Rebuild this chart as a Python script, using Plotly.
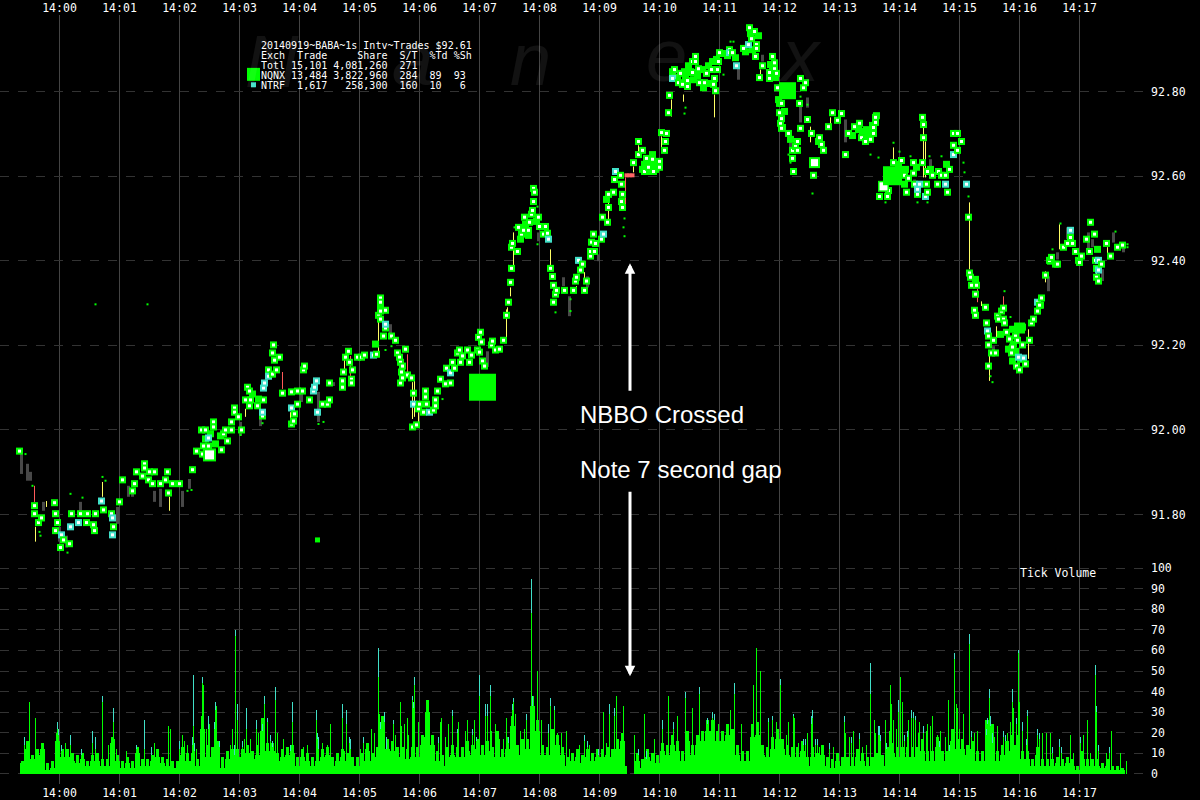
import plotly.graph_objects as go

# seconds after 14:00:00, price
nqnx_points = [
(-40,91.950),(-25,91.821),(-25,91.802),(-18,91.792),(-21,91.781),(-5,91.828),(-4,91.802),(-2,91.781),(-4,91.762),(4,91.740),
(1,91.722),(10,91.731),(12,91.802),(21,91.802),(28,91.802),(36,91.802),(27,91.781),(34,91.776),(35,91.762),(44,91.811),
(60,91.830),(52,91.802),(54,91.771),(63,91.882),(75,91.873),(73,91.856),(77,91.901),(85,91.920),(85,91.910),(83,91.891),
(89,91.882),(90,91.901),(95,91.901),(93,91.873),(101,91.873),(106,91.882),(108,91.901),(109,91.851),(120,91.873),(113,91.873),
(133,91.906),(137,91.950),(142,92.000),(146,92.000),(144,91.962),(149,91.962),(143,91.943),(154,92.019),(154,92.007),(164,91.991),
(168,91.974),(162,91.953),(166,92.000),(172,92.000),(172,92.019),(182,92.000),(179,92.031),(175,92.052),(175,92.042),(188,92.101),
(190,92.092),(186,92.071),(191,92.071),(190,92.057),(198,92.057),(204,92.071),(203,92.033),(209,92.142),(213,92.132),(217,92.142),
(215,92.165),(213,92.182),(220,92.172),(214,92.201),(223,92.087),(232,92.090),(238,92.092),(243,92.092),(245,92.151),(244,92.142),
(238,92.061),(235,92.038),(234,92.021),(232,92.014),(250,92.071),(263,92.061),(270,92.071),(268,92.061),(270,92.111),(283,92.116),
(283,92.101),(284,92.137),(292,92.120),(292,92.111),(293,92.142),(286,92.172),(289,92.186),(290,92.160),(298,92.172),(302,92.172),
(305,92.177),(317,92.179),(321,92.312),(321,92.302),(319,92.271),(321,92.281),(326,92.283),(321,92.262),(326,92.241),(324,92.222),
(332,92.222),(336,92.212),(346,92.191),(338,92.182),(340,92.172),(341,92.160),(343,92.151),(342,92.137),(348,92.130),(343,92.123),
(352,92.123),(341,92.111),(354,92.087),(360,92.061),(359,92.050),(366,92.092),(366,92.078),(367,92.061),(364,92.042),(376,92.071),
(376,92.057),(378,92.092),(374,92.047),(357,92.012),(353,92.007),(381,92.120),(386,92.109),(391,92.111),(387,92.146),(393,92.160),
(395,92.146),(398,92.182),(400,92.189),(403,92.175),(408,92.189),(412,92.177),(401,92.160),(410,92.160),(418,92.189),(423,92.163),
(425,92.151),(419,92.219),(421,92.231),(422,92.208),(420,92.184),(432,92.201),(436,92.189),(433,92.210),(444,92.212),(440,92.191),
(447,92.271),(449,92.302),(451,92.349),(452,92.382),(453,92.441),(452,92.432),(458,92.422),(459,92.479),(464,92.472),(462,92.463),
(465,92.503),(470,92.491),(469,92.472),(472,92.510),(473,92.519),(474,92.540),(475,92.562),(474,92.571),(479,92.503),(480,92.481),
(486,92.481),(488,92.465),(484,92.463),(491,92.382),(493,92.363),(494,92.342),(496,92.321),(494,92.302),(497,92.330),(505,92.330),
(514,92.330),(516,92.352),(517,92.361),(521,92.378),(523,92.392),(525,92.330),(527,92.352),(531,92.411),(531,92.422),(532,92.444),
(536,92.441),(534,92.463),(535,92.422),(542,92.451),(543,92.503),(548,92.491),(549,92.526),(549,92.557),(554,92.562),(555,92.592),
(561,92.602),(562,92.581),(563,92.557),(562,92.540),(563,92.526),(579,92.682),(583,92.661),(579,92.651),(574,92.632),(587,92.642),
(593,92.640),(600,92.635),(589,92.621),(594,92.611),(600,92.621),(585,92.611),(602,92.703),(607,92.701),(606,92.682),(605,92.661),
(609,92.750),(610,92.791),(615,92.852),(621,92.843),(619,92.821),(623,92.817),(628,92.812),(628,92.826),(636,92.883),(636,92.871),
(633,92.871),(639,92.854),(633,92.845),(647,92.843),(652,92.852),(645,92.821),(640,92.821),(658,92.852),(655,92.831),(654,92.817),
(656,92.802),(660,92.892),(659,92.871),(673,92.892),(670,92.899),(684,92.902),(692,92.925),(695,92.942),(690,92.951),(697,92.911),
(697,92.902),(696,92.883),(703,92.861),(700,92.833),(710,92.831),(713,92.883),(715,92.868),(710,92.845),(715,92.854),(717,92.843),
(718,92.809),(720,92.772),(722,92.772),(740,92.772),(720,92.750),(722,92.736),(721,92.725),(722,92.713),(729,92.701),(741,92.713),
(748,92.734),(741,92.831),(746,92.821),(744,92.809),(752,92.701),(738,92.682),(736,92.670),(738,92.661),(733,92.661),(733,92.642),
(734,92.611),(760,92.691),(762,92.675),(764,92.661),(754,92.602),(773,92.750),(782,92.748),(778,92.732),(769,92.717),(786,92.651),
(800,92.725),(795,92.717),(789,92.701),(802,92.691),(811,92.687),(806,92.682),(816,92.739),(816,92.727),(814,92.715),(814,92.701),
(863,92.739),(864,92.722),(864,92.691),(834,92.632),(842,92.637),(854,92.632),(863,92.632),(839,92.611),(854,92.607),(868,92.611),
(873,92.602),(879,92.611),(882,92.602),(886,92.602),(890,92.616),(867,92.581),(878,92.581),(845,92.602),(849,92.595),(855,92.581),
(847,92.562),(868,92.562),(858,92.557),(888,92.562),(829,92.566),(820,92.552),(828,92.552),(898,92.701),(894,92.701),(902,92.682),
(894,92.673),(898,92.661),(909,92.503),(910,92.371),(911,92.361),(912,92.342),(917,92.342),(916,92.321),(926,92.290),(916,92.271),
(915,92.283),(927,92.253),(929,92.222),(929,92.201),(934,92.212),(936,92.182),(932,92.182),(929,92.151),(938,92.269),(939,92.262),
(944,92.262),(945,92.253),(942,92.281),(944,92.288),(947,92.231),(956,92.222),(950,92.215),(958,92.212),(953,92.196),(963,92.201),
(952,92.182),(970,92.212),(966,92.156),(957,92.151),(960,92.142),(974,92.262),(972,92.253),(978,92.281),(980,92.295),(982,92.312),
(986,92.366),(990,92.401),(992,92.408),(996,92.392),(998,92.392),(1004,92.432),(1008,92.441),(1013,92.441),(1011,92.455),(1016,92.422),
(1022,92.411),(1019,92.401),(1020,92.396),(1031,92.491),(1027,92.451),(1035,92.463),(1030,92.422),(1036,92.401),(1042,92.392),(1037,92.382),
(1037,92.361),(1039,92.352),(1047,92.441),(1051,92.411),(1058,92.432),(1063,92.437),
]
# solid green trades in the dense clusters
nqnx_solid = [
(583,92.616),(587,92.611),(591,92.613),(596,92.616),(598,92.628),(591,92.632),(585,92.628),(613,92.847),(618,92.833),(625,92.847),
(629,92.861),(631,92.847),(626,92.833),(634,92.828),(638,92.838),(643,92.852),(649,92.861),(653,92.871),(657,92.876),(644,92.809),
(649,92.819),(663,92.890),(668,92.885),(676,92.880),(686,92.894),(691,92.937),(699,92.932),(693,92.899),(711,92.864),(713,92.852),
(716,92.833),(719,92.781),(725,92.753),(723,92.715),(731,92.687),(799,92.710),(793,92.696),(803,92.706),(809,92.696),(813,92.720),
(817,92.743),(807,92.710),(759,92.682),(839,92.628),(846,92.616),(857,92.621),(871,92.616),(845,92.581),(887,92.628),(961,92.167),
(954,92.203),(949,92.191),(953,92.163),(956,92.186),(963,92.243),(953,92.238),(916,92.356),(941,92.226),(466,92.486),(477,92.493),
(461,92.451),(469,92.460),(547,92.545),(593,92.651),(991,92.399),(981,92.295),(1038,92.427),(146,91.979),(151,91.991),(161,91.986),
(156,91.967),(316,92.203),(321,92.292),(199,92.073),(193,92.085),
]
ntrf_points = [
(42,91.832),(53,91.792),(53,91.752),(11,91.771),(2,91.752),(19,91.781),(149,91.981),(203,92.042),(205,92.111),(204,92.099),
(209,92.127),(232,92.052),(257,92.116),(255,92.101),(254,92.092),(258,92.042),(314,92.177),(326,92.250),(354,92.061),(370,92.042),
(391,92.135),(489,92.451),(519,92.401),(544,92.463),(556,92.611),(613,92.831),(670,92.892),(677,92.861),(689,92.911),(894,92.651),
(860,92.581),(858,92.569),(866,92.552),(886,92.581),(907,92.581),(928,92.234),(959,92.172),(964,92.170),(978,92.302),(1011,92.472),
(1039,92.401),(1039,92.378),
]
# (seconds, price, block size)
big_blocks = [(423,92.101,27),(728,92.802,17),(833,92.601,19),(960,92.241,11)]
big_white_blocks = [(150,91.941,13,9),(755,92.632,11,7),(824,92.576,11,8)]
lone_trade = [(258,91.740)]
pink_quote_secs = [567,570,573]
pink_quote_price = 92.602

specks = [
(834,92.679),(811,92.651),(819,92.644),(840,92.658),(851,92.647),(870,92.647),(882,92.647),(904,92.632),(905,92.609),(909,92.552),
(945,92.328),(951,92.267),(918,92.359),(933,92.113),(931,92.127),(826,92.538),(858,92.538),(868,92.538),(993,92.427),(1001,92.488),
(1056,92.469),(1068,92.439),(1068,92.432),(496,92.278),(511,92.281),(564,92.479),(565,92.458),(478,92.528),(478,92.439),(471,92.460),
(455,92.479),(511,92.309),(565,92.500),(626,92.762),(625,92.748),(741,92.788),(748,92.769),(674,92.918),(671,92.918),(664,92.840),
(753,92.559),(729,92.651),(731,92.632),(43,91.889),(46,91.880),(11,91.849),(23,91.840),(8,91.710),(-20,91.759),(-19,91.750),
(-27,91.868),(-34,91.943),(128,91.856),(132,91.858),(259,92.014),(264,92.019),(181,91.988),(203,92.016),(326,92.189),(332,92.198),
(383,92.073),(36,92.297),(88,92.297),
]
# (seconds, low, high)
yellow_wicks = [
(-24,91.736,91.771),(43,91.842,91.877),(110,91.809,91.842),(-13,91.818,91.832),(319,92.184,92.255),(447,92.208,92.285),(353,92.026,92.113),
(355,92.031,92.127),(186,92.031,92.050),(231,92.026,92.042),(285,92.144,92.168),(359,92.019,92.042),(454,92.380,92.467),(451,92.316,92.337),
(448,92.269,92.290),(491,92.380,92.427),(549,92.491,92.550),(574,92.609,92.623),(579,92.656,92.673),(602,92.658,92.694),(525,92.356,92.373),
(517,92.326,92.340),(655,92.739,92.793),(624,92.776,92.793),(612,92.741,92.781),(701,92.840,92.852),(771,92.717,92.739),(751,92.680,92.717),
(834,92.640,92.668),(864,92.597,92.715),(866,92.597,92.682),(910,92.380,92.538),(930,92.116,92.175),(937,92.215,92.245),(969,92.168,92.238),
(922,92.293,92.304),(986,92.349,92.375),(1000,92.427,92.486),(1037,92.356,92.373),(1048,92.411,92.432),
]
red_wicks = [
(-25,91.830,91.868),(223,92.097,92.137),(291,92.120,92.175),(348,92.137,92.179),(566,92.521,92.597),(944,92.293,92.316),(918,92.302,92.333),
]
gray_wicks = [
(-38,91.896,91.948),(-32,91.880,91.920),(-29,91.880,91.901),(-16,91.809,91.830),(21,91.802,91.830),(58,91.778,91.818),(69,91.842,91.868),
(73,91.842,91.861),(95,91.830,91.856),(101,91.818,91.861),(123,91.818,91.856),(130,91.861,91.884),(7,91.722,91.750),(0,91.736,91.771),
(201,92.009,92.033),(259,92.019,92.090),(242,92.066,92.085),(274,92.104,92.113),(428,92.149,92.186),(181,91.986,92.019),(331,92.226,92.250),
(504,92.340,92.361),(510,92.269,92.316),(528,92.337,92.363),(539,92.399,92.415),(479,92.446,92.467),(679,92.828,92.868),(703,92.871,92.887),
(786,92.680,92.734),(731,92.656,92.687),(741,92.727,92.765),(748,92.762,92.786),(855,92.576,92.592),(871,92.609,92.640),(998,92.403,92.420),
(989,92.328,92.363),(1008,92.451,92.479),(1029,92.427,92.467),(1033,92.432,92.451),(1043,92.352,92.380),(1064,92.420,92.443),(1054,92.443,92.467),
(934,92.186,92.198),
]

# tick volume: low level over 5-second buckets starting at -39 s
vol_base_start = -39
vol_base = [
5,12,7,9,12,2,3,16,8,8,6,5,7,4,6,6,4,4,15,6,3,5,3,10,4,4,6,8,5,4,3,3,9,6,6,4,22,8,8,11,3,7,8,8,8,10,7,9,21,11,
11,6,8,9,10,4,8,6,4,6,8,9,4,6,8,6,4,4,6,11,6,8,24,12,11,8,8,7,8,8,14,30,14,6,4,8,9,8,8,11,9,12,9,11,8,17,
8,12,23,9,12,12,33,21,9,9,16,14,9,4,6,8,5,8,6,8,8,9,8,12,16,0,0,
6,3,8,6,5,11,9,14,11,6,16,9,14,16,21,21,16,16,19,17,9,6,6,18,19,9,8,12,17,12,9,
8,8,11,4,8,6,9,4,3,6,4,4,4,8,6,4,4,6,4,8,10,8,8,8,8,8,11,6,6,13,6,6,16,12,12,9,11,6,6,20,18,6,9,11,14,14,
7,7,4,9,4,4,4,5,4,5,4,2,7,4,4,4,3,4,2,2,2,
]
# middle level over the same buckets
vol_mid = [
6,16,9,12,15,5,6,20,12,12,10,9,10,6,9,10,7,7,18,9,6,8,6,13,7,7,9,12,8,7,6,6,13,10,10,7,28,14,13,16,8,11,12,12,12,14,11,14,27,15,
15,10,12,13,14,8,12,10,8,10,12,13,8,10,12,10,8,8,10,15,10,13,28,17,16,13,13,12,13,13,19,36,19,11,9,13,14,13,13,16,14,17,14,16,13,21,
12,18,28,14,17,17,38,26,14,13,22,19,13,8,10,12,9,12,10,12,12,13,12,17,20,0,0,
10,7,12,10,9,15,14,19,16,11,21,14,19,21,26,26,21,21,24,22,14,11,11,24,25,14,13,18,22,17,14,
13,13,16,8,13,10,14,8,7,10,8,8,8,12,10,8,8,10,9,13,15,13,13,13,13,13,17,11,11,18,11,11,22,17,17,14,16,11,11,26,24,11,14,16,19,19,
11,11,7,13,7,7,7,8,7,8,7,4,11,7,7,7,5,7,4,4,3,
]
# (second, total volume, NTRF share shown as cyan cap)
vol_spikes = [
(-35,18,4),(-30,35,0),(-24,27,0),(-17,13,0),(-2,25,3),(-1,22,3),(2,14,3),(6,15,0),(11,19,5),(22,12,3),(33,21,6),(36,18,6),(43,38,3),(49,14,0),
(54,32,7),(55,17,0),(57,12,0),(67,11,0),(77,14,2),(85,26,14),(92,13,4),(95,15,0),(109,23,0),(111,22,0),(120,16,4),(123,19,0),(125,16,0),(128,14,0),
(133,18,4),(134,48,25),(135,15,4),(137,12,0),(143,47,3),(144,43,0),(147,22,0),(149,28,6),(150,24,0),(152,13,0),(155,25,3),(156,35,4),(157,33,0),
(160,16,3),(171,14,0),(173,22,0),(175,14,5),(176,70,3),(178,34,8),(183,16,3),(185,17,0),(187,32,10),(191,17,0),(197,26,4),(199,20,0),(203,24,3),
(205,38,4),(208,27,2),(211,19,3),(213,16,3),(216,42,6),(218,20,0),(224,17,0),(233,35,10),(231,14,3),(244,13,0),(248,14,0),(257,31,5),(258,20,3),
(259,18,6),(263,15,0),(268,14,0),(271,24,0),(283,34,7),(285,11,0),(287,31,7),(290,18,3),(291,17,5),(301,12,0),(304,18,3),(306,12,0),(312,22,0),
(315,20,0),(319,61,14),(320,29,0),(321,25,3),(325,30,5),(327,18,6),(334,26,2),(336,19,0),(341,35,0),(342,23,0),(345,24,0),(348,27,0),(349,19,0),
(353,38,2),(355,47,4),(354,35,3),(359,25,0),(362,16,0),(365,18,0),(370,19,0),(379,18,3),(381,25,0),(382,27,0),(386,18,0),(389,24,0),(393,31,3),
(399,25,0),(398,22,2),(406,21,0),(408,26,0),(413,22,3),(415,26,0),(417,18,2),(420,48,10),(426,34,6),(428,34,6),(431,43,5),(432,21,0),(436,24,0),
(444,17,0),(447,27,0),(449,18,3),(453,34,3),(454,37,2),(456,29,0),(461,21,0),(465,22,0),(467,29,3),(472,95,17),(473,38,5),(478,50,0),(479,21,0),
(482,26,0),(491,37,4),(489,24,4),(495,33,2),(498,20,0),(502,20,0),(507,21,0),(510,12,0),(520,14,0),(525,19,3),(528,16,3),(530,14,0),(539,12,3),
(544,30,0),(547,15,0),(550,34,5),(555,32,4),(557,38,0),(564,33,0),(566,4,0),(567,4,0),(575,19,0),(579,12,3),(585,29,0),(587,11,4),(595,17,0),
(603,26,4),(609,38,0),(614,25,3),(618,28,0),(626,40,3),(633,32,0),(640,42,3),(642,17,0),(648,27,3),(653,30,3),(655,29,3),(659,24,0),(664,20,0),
(671,31,0),(675,44,5),(682,24,0),(694,43,0),(697,61,0),(699,23,0),(701,50,0),(709,27,2),(713,28,2),(717,25,0),(721,46,3),(727,19,0),(729,25,0),
(734,29,1),(735,27,0),(739,15,0),(744,17,3),(746,17,3),(748,20,0),(752,28,4),(753,31,4),(756,17,3),(758,17,3),(760,13,0),(762,14,0),(770,15,3),
(774,13,0),(785,28,3),(786,20,0),(790,18,0),(792,18,3),(794,21,0),(800,20,3),(803,13,0),(807,14,0),(811,54,15),(815,26,0),(816,20,0),(819,23,4),
(820,23,4),(821,19,3),(826,26,0),(827,15,3),(830,21,0),(831,43,0),(832,34,0),(834,26,0),(837,22,0),(839,36,6),(841,47,0),(843,35,0),(845,19,3),
(848,21,3),(849,26,0),(852,31,4),(854,30,3),(856,28,2),(859,20,0),(860,25,0),(864,23,3),(867,21,0),(868,24,0),(871,23,0),(873,28,0),(878,19,0),
(880,16,3),(881,21,0),(886,18,0),(889,36,0),(890,14,3),(895,59,3),(897,34,0),(898,32,0),(900,22,0),(904,29,0),(910,68,5),(911,12,0),(912,21,3),
(915,20,0),(918,21,0),(926,26,0),(927,22,3),(928,27,3),(930,41,4),(931,28,5),(933,20,5),(938,23,0),(944,21,3),(946,19,3),(948,20,0),(951,25,0),
(953,41,6),(954,32,0),(957,27,3),(959,60,1),(960,35,0),(963,25,4),(968,31,3),(967,17,3),(978,22,3),(980,20,3),(983,20,0),(987,20,0),(991,20,0),
(993,13,3),(1000,17,4),(1002,13,3),(1011,19,0),(1014,10,0),(1021,18,3),(1024,19,0),(1028,26,0),(1031,10,0),(1036,53,5),(1037,33,3),(1039,14,3),
(1047,10,0),(1050,13,3),(1052,21,0),(1061,10,0),(1067,6,0),
]

time_labels = ["14:00","14:01","14:02","14:03","14:04","14:05","14:06","14:07","14:08","14:09",
               "14:10","14:11","14:12","14:13","14:14","14:15","14:16","14:17"]
price_ticks = [91.8,92.0,92.2,92.4,92.6,92.8]
volume_ticks = [0,10,20,30,40,50,60,70,80,90,100]
header_lines = [
    "20140919~BABA~1s Intv~Trades $92.61",
    "Exch  Trade     Share  S/T  %Td %Sh",
    "Totl 15,101 4,081,260  271",
    "NQNX 13,484 3,822,960  284  89  93",
    "NTRF  1,617   258,300  160  10   6",
]

GREEN = "#00FF00"
CYAN = "#40E0C8"
WHITE = "#FFFFFF"
W, H = 1200, 800
L, R, T, B = 0, 53, 15, 14
PW, PH = W - L - R, H - T - B
xr = [-59.5, PW - 59.5]
yr_price = [91.163, 92.981]
yr_vol = [-5.0, 369.3]
fx = lambda px: px / PW
fy = lambda py: (H - B - py) / PH


def wick_xy(rows):
    xs, ys = [], []
    for s, lo, hi in rows:
        xs += [s, s, None]
        ys += [lo, hi, None]
    return xs, ys


def col(rows, i):
    return [r[i] for r in rows]


fig = go.Figure()
bx = [vol_base_start + 5 * i + 2 for i in range(len(vol_base))]
# volume
fig.add_trace(go.Bar(x=bx, y=vol_base, width=5, marker=dict(color=GREEN, line_width=0), xaxis="x2", yaxis="y2"))
fig.add_trace(go.Bar(x=bx, y=vol_mid, width=3, marker=dict(color=GREEN, line_width=0), xaxis="x2", yaxis="y2"))
fig.add_trace(go.Bar(x=col(vol_spikes, 0), y=col(vol_spikes, 1), width=1,
                     marker=dict(color=CYAN, line_width=0), xaxis="x2", yaxis="y2"))
fig.add_trace(go.Bar(x=col(vol_spikes, 0), y=[t - c for _, t, c in vol_spikes], width=1,
                     marker=dict(color=GREEN, line_width=0), xaxis="x2", yaxis="y2"))
# wicks
for rows, colr, w in [(gray_wicks, "#484848", 3), (yellow_wicks, "#FFFF66", 1), (red_wicks, "#FF5A5A", 1)]:
    xs, ys = wick_xy(rows)
    fig.add_trace(go.Scatter(x=xs, y=ys, mode="lines", line=dict(color=colr, width=w), connectgaps=False))
fig.add_trace(go.Scatter(x=col(specks, 0), y=col(specks, 1), mode="markers",
                         marker=dict(symbol="square", size=2, color=GREEN, line_width=0)))
fig.add_trace(go.Scatter(x=pink_quote_secs, y=[pink_quote_price] * len(pink_quote_secs), mode="markers",
                         marker=dict(symbol="square", size=4, color="#FF6666", line_width=0)))
# trades, in time order so that later squares cover earlier white centres
fig.add_trace(go.Scatter(x=col(nqnx_solid, 0), y=col(nqnx_solid, 1), mode="markers",
                         marker=dict(symbol="square", size=7, color=GREEN, line_width=0, opacity=1)))
trades = sorted([(s, p, GREEN) for s, p in nqnx_points] + [(s, p, CYAN) for s, p in ntrf_points], key=lambda r: r[0])
tx, ty, ts, tc = [], [], [], []
for s, p, c in trades:
    tx += [s, s]
    ty += [p, p]
    ts += [7, 3]
    tc += [c, WHITE]
fig.add_trace(go.Scatter(x=tx, y=ty, mode="markers",
                         marker=dict(symbol="square", size=ts, color=tc, line_width=0, opacity=1)))
fig.add_trace(go.Scatter(x=col(lone_trade, 0), y=col(lone_trade, 1), mode="markers",
                         marker=dict(symbol="square", size=5, color=GREEN, line_width=0, opacity=1)))
fig.add_trace(go.Scatter(x=col(big_white_blocks, 0), y=col(big_white_blocks, 1), mode="markers",
                         marker=dict(symbol="square", size=col(big_white_blocks, 2), color=GREEN, line_width=0, opacity=1)))
fig.add_trace(go.Scatter(x=col(big_white_blocks, 0), y=col(big_white_blocks, 1), mode="markers",
                         marker=dict(symbol="square", size=col(big_white_blocks, 3), color=WHITE, line_width=0, opacity=1)))
fig.add_trace(go.Scatter(x=col(big_blocks, 0), y=col(big_blocks, 1), mode="markers",
                         marker=dict(symbol="square", size=col(big_blocks, 2), color=GREEN, line_width=0, opacity=1)))

MONO = "DejaVu Sans Mono"
ann = []
for ch, px, py in [("N", 272, 62), ("a", 412, 60), ("n", 530, 60), ("e", 666, 56), ("x", 800, 56)]:
    ann.append(dict(text="<i>" + ch + "</i>", xref="paper", yref="paper", x=fx(px), y=fy(py), showarrow=False,
                    font=dict(family="Liberation Sans", size=74, color="rgba(255,255,255,0.07)"),
                    xanchor="center", yanchor="middle"))
for i, line in enumerate(header_lines):
    ann.append(dict(text=line.replace(" ", "&nbsp;"), xref="paper", yref="paper", x=fx(259), y=fy(45.5 + 10 * i),
                    showarrow=False, xanchor="left", yanchor="middle", font=dict(family=MONO, size=10, color=WHITE)))
ann.append(dict(text="Tick Volume", xref="paper", yref="paper", x=fx(1018), y=fy(574), showarrow=False, xanchor="left",
                yanchor="middle", font=dict(family=MONO, size=11.5, color=WHITE)))
ann.append(dict(text="NBBO Crossed", xref="paper", yref="paper", x=fx(578), y=fy(416), showarrow=False, xanchor="left",
                yanchor="middle", font=dict(family="Liberation Sans", size=24, color=WHITE)))
ann.append(dict(text="Note 7 second gap", xref="paper", yref="paper", x=fx(578), y=fy(471), showarrow=False, xanchor="left",
                yanchor="middle", font=dict(family="Liberation Sans", size=24, color=WHITE)))
for head, tail in [(264, 393), (678, 492)]:
    ann.append(dict(text="", xref="paper", yref="paper", x=fx(630), y=fy(head), ax=0, ay=tail - head, showarrow=True,
                    arrowhead=2, arrowsize=0.7, arrowwidth=3, arrowcolor=WHITE))

shapes = [
    dict(type="rect", xref="paper", yref="paper", x0=fx(247), x1=fx(260), y0=fy(81), y1=fy(68), fillcolor=GREEN, line_width=0),
    dict(type="rect", xref="paper", yref="paper", x0=fx(251), x1=fx(256), y0=fy(87.5), y1=fy(82.5), fillcolor=CYAN, line_width=0),
]

xcommon = dict(range=xr, tickmode="array", tickvals=[60 * i for i in range(len(time_labels))], ticktext=time_labels,
               tickfont=dict(family=MONO, size=11.5, color=WHITE), ticks="", zeroline=False, showline=False)
ycommon = dict(side="right", tickmode="array", tickfont=dict(family=MONO, size=11.5, color=WHITE), ticks="",
               zeroline=False, showline=False, showgrid=True, gridcolor="#333333", griddash="dash", gridwidth=1,
               ticklabelstandoff=3)
fig.update_layout(
    width=W, height=H, margin=dict(l=L, r=R, t=T, b=B), paper_bgcolor="#000000", plot_bgcolor="#000000",
    showlegend=False, barmode="overlay", bargap=0, hovermode=False,
    xaxis=dict(**xcommon, side="bottom", showgrid=True, gridcolor="#444444", gridwidth=1, layer="below traces"),
    xaxis2=dict(**xcommon, side="top", overlaying="x", showgrid=False),
    yaxis=dict(**ycommon, range=yr_price, tickvals=price_ticks, tickformat=".2f"),
    yaxis2=dict(**ycommon, range=yr_vol, tickvals=volume_ticks, overlaying="y", anchor="x2"),
    annotations=ann, shapes=shapes,
)
fig.write_html("out.html", config=dict(displayModeBar=False),
               post_script="document.body.style.margin='0';document.body.style.background='#000';")
